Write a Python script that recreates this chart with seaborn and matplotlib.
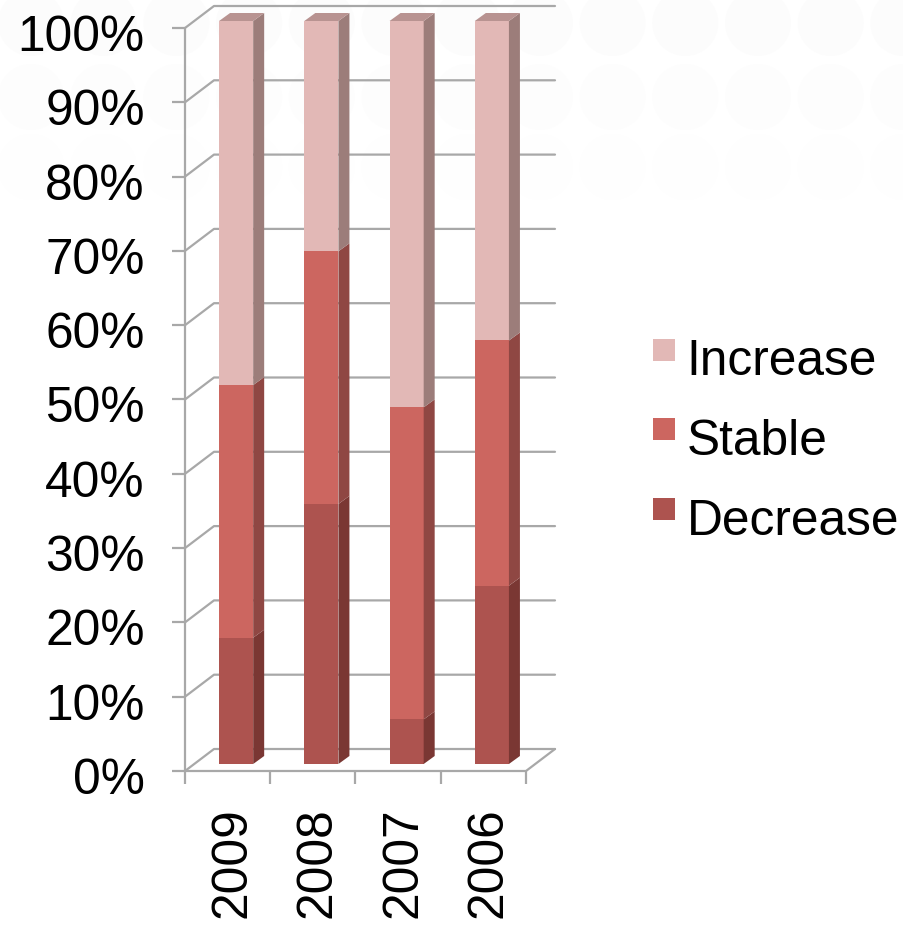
import numpy as np
import pandas as pd
import matplotlib
matplotlib.use("Agg")
import matplotlib.pyplot as plt
from matplotlib.legend_handler import HandlerPatch
from matplotlib.patches import Patch, Polygon, Circle, Rectangle
from matplotlib.transforms import ScaledTranslation
import seaborn as sns

years = ["2009", "2008", "2007", "2006"]
series_names = ["Decrease", "Stable", "Increase"]
decrease = [17, 35, 6, 24]
stable = [34, 34, 42, 33]
increase = [49, 31, 52, 43]
pct_ticks = list(range(0, 101, 10))

front_colors = ["#AD534F", "#CC6660", "#E2B8B6"]
side_colors = ["#7A3733", "#8F4743", "#9C7D7A"]
top_color = "#B89391"
grid_color = "#A8A8A8"

W, H = 904, 930
sns.set_theme(style="white")
plt.rcParams["font.family"] = ["Liberation Sans", "DejaVu Sans"]
plt.rcParams["text.color"] = "black"
FS = 35.7

fig = plt.figure(figsize=(W / 100, H / 100), dpi=100, facecolor="white")


def pixel_rect(left, bottom_y, width, height):
    return [left / W, (H - bottom_y) / H, width / W, height / H]


# Faint dotted backdrop fading towards the lower rows
bg = fig.add_axes([0, 0, 1, 1], zorder=0)
bg.set_xlim(0, W)
bg.set_ylim(H, 0)
bg.axis("off")
for row_y, shade in zip([23, 97, 167], ["#FCFCFC", "#FDFDFD", "#FEFEFE"]):
    for cx in np.arange(31, W + 40, 72.7):
        bg.add_patch(Circle((cx, row_y), 33, color=shade, lw=0))

# Front plane of the 3-D frame: carries the ticks and the labels
ax = fig.add_axes(pixel_rect(185, 771, 341, 743), zorder=1)
ax.patch.set_alpha(0)
ax.set_xlim(-0.5, 3.5)
ax.set_ylim(0, 100)
for s in ax.spines.values():
    s.set_visible(False)

wall_dx, wall_dy = 29 / 85.25, 22 / 7.43
line_kw = dict(color=grid_color, lw=1.6, clip_on=False, solid_capstyle="round")
for v in pct_ticks:
    ax.plot([-0.5, -0.5 + wall_dx, 3.5 + wall_dx], [v, v + wall_dy, v + wall_dy], **line_kw)
ax.plot([-0.5, -0.5], [0, 100], **line_kw)
ax.plot([-0.5, 3.5, 3.5 + wall_dx], [0, 0, wall_dy], **line_kw)

ax.set_yticks(pct_ticks)
ax.set_yticklabels([f"{v}%" for v in pct_ticks], fontsize=FS, color="black")
ax.tick_params(axis="y", length=9.5, width=1.6, color=grid_color, pad=19.5, left=True)
down = ScaledTranslation(0, -5 / 100, fig.dpi_scale_trans)
for lab in ax.get_yticklabels():
    lab.set_transform(lab.get_transform() + down)

ax.set_xticks(np.arange(-0.5, 4, 1))
ax.set_xticklabels([])
ax.set_xticks(range(4), years, minor=True, rotation=90, fontsize=FS, color="black")
ax.tick_params(axis="x", which="major", length=9.5, width=1.6, color=grid_color, bottom=True)
ax.tick_params(axis="x", which="minor", length=0, pad=26, bottom=False)
right = ScaledTranslation(5 / 100, 0, fig.dpi_scale_trans)
for lab in ax.get_xticklabels(minor=True):
    lab.set_transform(lab.get_transform() + right)

# Bars sit on a plane pushed slightly back from the front frame
bars_ax = fig.add_axes(pixel_rect(193.5, 764, 341, 743), zorder=2)
bars_ax.patch.set_alpha(0)
bars_ax.axis("off")

frame = pd.DataFrame(
    {"year": years * 3,
     "series": np.repeat(series_names, 4),
     "value": decrease + stable + increase}
)
base = np.zeros(4)
depth_x, depth_y = 11 / 85.25, 8 / 7.43
for i, name in enumerate(series_names):
    part = frame[frame["series"] == name]
    before = len(bars_ax.patches)
    sns.barplot(data=part, x="year", y="value", order=years, ax=bars_ax, width=0.4,
                color=front_colors[i], saturation=1, bottom=base, errorbar=None, zorder=3,
                linewidth=0, edgecolor="none")
    for bar in list(bars_ax.patches)[before:]:
        x1 = bar.get_x() + bar.get_width()
        y0, y1 = bar.get_y(), bar.get_y() + bar.get_height()
        bars_ax.add_patch(Polygon(
            [(x1, y0), (x1 + depth_x, y0 + depth_y), (x1 + depth_x, y1 + depth_y), (x1, y1)],
            facecolor=side_colors[i], lw=0, clip_on=False, zorder=3))
        if i == len(series_names) - 1:
            x0 = bar.get_x()
            bars_ax.add_patch(Polygon(
                [(x0, y1), (x0 + depth_x, y1 + depth_y), (x1 + depth_x, y1 + depth_y), (x1, y1)],
                facecolor=top_color, lw=0, clip_on=False, zorder=3))
    base = base + part["value"].to_numpy()
bars_ax.set_xlim(-0.5, 3.5)
bars_ax.set_ylim(0, 100)


class RaisedSwatch(HandlerPatch):
    """Square legend key sitting a little above the text's centre line."""

    def create_artists(self, legend, orig_handle, xdescent, ydescent, width, height,
                       fontsize, trans):
        size = 22 * 72 / 100
        rect = Rectangle((0, height / 2 - size / 2 + 9), size, size,
                         facecolor=orig_handle.get_facecolor(), lw=0, transform=trans)
        return [rect]


handles = [Patch(facecolor=front_colors[i], lw=0) for i in (2, 1, 0)]
fig.legend(handles, [series_names[i] for i in (2, 1, 0)], fontsize=FS, frameon=False,
           loc="center left", bbox_to_anchor=(653 / W, (H - 442) / H), borderpad=0,
           borderaxespad=0, handlelength=0.44, handleheight=0.44, handletextpad=0.24,
           labelspacing=0.68,
           handler_map={Patch: RaisedSwatch()})

fig.savefig("out.png", dpi=100)
